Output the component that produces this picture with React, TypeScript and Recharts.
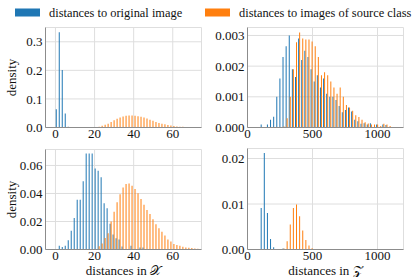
import React from "react";
import { ComposedChart, Bar, XAxis, YAxis, CartesianGrid } from "recharts";

const BLUE = "#1f77b4";
const ORANGE = "#ff7f0e";
const FRAME = "#8c8c8c";
const FONT = "'Liberation Serif', 'DejaVu Serif', 'Times New Roman', serif";
const FS = 13;

// histogram bins, left column (distances in X)
const xBinStart = 0;
const xBinWidth = 1.53;
const xTicks = [0, 20, 40, 60];
const xDomain: [number, number] = [-5.1, 74.7];

// histogram bins, right column (distances in Z)
const zBinStart = 99;
const zBinWidth = 24;
const zTicks = [0, 500, 1000];
const zDomain: [number, number] = [0, 1200];

const tlYTicks = [0, 0.1, 0.2, 0.3];
const trYTicks = [0, 0.001, 0.002, 0.003];
const blYTicks = [0, 0.02, 0.04, 0.06];
const brYTicks = [0, 0.01, 0.02];

// top left: distances to original image / to images of source class
const tlBlue = [
  0.064, 0.333, 0.201, 0.049, 0.003, 0, 0, 0, 0, 0, 0, 0, 0, 0, 0, 0,
  0, 0, 0, 0, 0, 0, 0, 0, 0, 0, 0, 0, 0, 0, 0, 0,
  0, 0, 0, 0, 0, 0, 0, 0, 0, 0, 0, 0, 0, 0, 0, 0,
];
const tlOrange = [
  0, 0, 0, 0, 0, 0, 0, 0, 0, 0, 0, 0, 0, 0.0012, 0.0024, 0.006,
  0.0098, 0.0135, 0.0195, 0.0255, 0.0305, 0.035, 0.0388, 0.041, 0.0422, 0.0422, 0.041, 0.0398, 0.0375, 0.035, 0.0315, 0.027,
  0.0232, 0.0196, 0.016, 0.0135, 0.011, 0.0086, 0.0073, 0.0049, 0.0037, 0.0025, 0.0024, 0.0013, 0.0013, 0.0012, 0.001, 0.0008,
];

// bottom left
const blBlue = [
  0, 0.0026, 0.0017, 0.0026, 0.0066, 0.0133, 0.0225, 0.0356, 0.0356, 0.0487, 0.0686, 0.0686, 0.0686, 0.0579, 0.0563, 0.0515,
  0.033, 0.0294, 0.0183, 0.0107, 0.0081, 0.0071, 0.0021, 0, 0, 0.0026, 0, 0, 0.0014, 0.0014, 0, 0,
  0, 0, 0, 0, 0, 0, 0, 0, 0, 0, 0, 0, 0, 0, 0, 0,
];
const blOrange = [
  0, 0, 0, 0, 0, 0, 0, 0, 0, 0, 0, 0, 0, 0, 0.0024, 0.0043,
  0.0083, 0.0116, 0.02, 0.027, 0.0337, 0.0394, 0.0442, 0.0467, 0.0472, 0.0455, 0.0432, 0.0401, 0.0361, 0.032, 0.0282, 0.0254,
  0.0216, 0.018, 0.0152, 0.0126, 0.01, 0.0071, 0.0057, 0.004, 0.0033, 0.0026, 0.0019, 0.0014, 0.0012, 0.001, 0.0007, 0.0005,
];

// top right
const trBlue = [
  0.0001, 0, 0.0001, 0.00025, 0.00035, 0.001, 0.0016, 0.0023, 0.00265, 0.003, 0.0019, 0.00165, 0.0029, 0.0022,
  0.0025, 0.0023, 0.0019, 0.0015, 0.0017, 0.0013, 0.0016, 0.0011, 0.001, 0.001, 0.0009, 0.0007, 0.0005, 0.00057,
  0.00065, 0.00052, 0.00025, 0.0002, 0.00012, 0.00014, 0.0001, 0.00014, 0, 0.0001, 0, 0.0001, 0.00008, 0,
];
const trOrange = [
  0, 0, 0, 0, 0, 0, 0, 0.00003, 0.0003, 0.001, 0.0019, 0.00278, 0.0031, 0.0029,
  0.00287, 0.00287, 0.0028, 0.00265, 0.0023, 0.0017, 0.0018, 0.0017, 0.0015, 0.0013, 0.0011, 0.0013, 0.001, 0.00073,
  0.00065, 0.00055, 0.0004, 0.00034, 0.00025, 0.00017, 0.00013, 0.0001, 0.0001, 0.0001, 0.00005, 0.00012, 0.0001, 0.00005,
];

// bottom right
const brBlue = [
  0.0091, 0.0212, 0.008, 0.0023, 0.0005, 0, 0, 0.0002, 0, 0, 0, 0, 0, 0,
  0, 0, 0, 0, 0, 0, 0, 0, 0, 0, 0, 0, 0, 0,
  0, 0, 0, 0, 0, 0, 0, 0, 0, 0, 0, 0, 0, 0,
];
const brOrange = [
  0, 0, 0, 0, 0, 0, 0, 0.0002, 0.0018, 0.0055, 0.0091, 0.0099, 0.0073, 0.0042,
  0.0021, 0.0009, 0.0003, 0, 0, 0, 0, 0, 0, 0, 0, 0, 0, 0,
  0, 0, 0, 0, 0, 0, 0, 0, 0, 0, 0, 0, 0, 0,
];

const legendItems = [
  { label: "distances to original image", color: BLUE },
  { label: "distances to images of source class", color: ORANGE },
];

function rowsOf(start: number, width: number, blue: number[], orange: number[]) {
  return blue.map((b, i) => {
    const c = start + (i + 0.5) * width;
    return { bin: c.toFixed(2), c, blue: b, orange: orange[i] };
  });
}

const CHART_W = 207;
const Y_W = 45;
const M_LEFT = 0.5;
const M_RIGHT = 5.5;

interface PanelProps {
  left: number;
  top: number;
  height: number;
  marginTop: number;
  axisHeight: number;
  blue: number[];
  orange: number[];
  binStart: number;
  binWidth: number;
  xDomain: [number, number];
  xTicks: number[];
  yTicks: number[];
  yMax: number;
  decimals: number;
  yLabel?: string;
  xLabel?: string;
}

function Panel(p: PanelProps) {
  const rows = rowsOf(p.binStart, p.binWidth, p.blue, p.orange);
  const binEnd = p.binStart + p.blue.length * p.binWidth;
  const plotW = CHART_W - M_LEFT - M_RIGHT - Y_W;
  const span = p.xDomain[1] - p.xDomain[0];
  const padL = ((p.binStart - p.xDomain[0]) / span) * plotW;
  const padR = ((p.xDomain[1] - binEnd) / span) * plotW;
  const tickStyle = { fontSize: FS, fontFamily: FONT, fill: "#111" };
  const labelStyle = { fontSize: FS, fontFamily: FONT, fill: "#111" };

  return (
    <div style={{ position: "absolute", left: p.left, top: p.top }}>
      <ComposedChart
        width={CHART_W}
        height={p.height}
        data={rows}
        margin={{ top: p.marginTop, right: M_RIGHT, bottom: 0.5, left: M_LEFT }}
        barCategoryGap="10%"
        barGap={0}
      >
        <CartesianGrid xAxisId="num" stroke="#dedede" strokeWidth={1} />
        <XAxis
          xAxisId="band"
          dataKey="bin"
          type="category"
          orientation="top"
          height={0}
          hide
          padding={{ left: padL, right: padR }}
        />
        {/* top spine */}
        <XAxis
          xAxisId="frameTop"
          dataKey="c"
          type="number"
          orientation="top"
          domain={p.xDomain}
          allowDataOverflow
          height={0}
          tick={false}
          tickLine={false}
          axisLine={{ stroke: FRAME }}
        />
        <XAxis
          xAxisId="num"
          dataKey="c"
          type="number"
          domain={p.xDomain}
          ticks={p.xTicks}
          allowDataOverflow
          interval={0}
          height={p.axisHeight}
          tickLine={false}
          axisLine={{ stroke: FRAME }}
          tickSize={0}
          tickMargin={1}
          tick={tickStyle}
          label={
            p.xLabel
              ? { value: p.xLabel, position: "insideBottom", offset: 2, style: labelStyle }
              : undefined
          }
        />
        <YAxis
          dataKey="blue"
          type="number"
          domain={[0, p.yMax]}
          ticks={p.yTicks}
          allowDataOverflow
          interval={0}
          width={Y_W}
          tickLine={false}
          axisLine={{ stroke: FRAME }}
          tickSize={0}
          tickMargin={3}
          tick={tickStyle}
          tickFormatter={(v: number) => v.toFixed(p.decimals)}
          label={
            p.yLabel
              ? {
                  value: p.yLabel,
                  angle: -90,
                  position: "insideLeft",
                  offset: 11,
                  textAnchor: "middle",
                  style: { ...labelStyle, textAnchor: "middle" },
                }
              : undefined
          }
        />
        {/* right spine */}
        <YAxis
          yAxisId="frameRight"
          dataKey="blue"
          orientation="right"
          type="number"
          domain={[0, p.yMax]}
          allowDataOverflow
          width={0}
          tick={false}
          tickLine={false}
          axisLine={{ stroke: FRAME }}
        />
        <Bar xAxisId="band" dataKey="blue" fill={BLUE} isAnimationActive={false} />
        <Bar xAxisId="band" dataKey="orange" fill={ORANGE} isAnimationActive={false} />
      </ComposedChart>
    </div>
  );
}

export default function App() {
  return (
    <div
      style={{
        position: "absolute",
        left: 0,
        top: 0,
        width: 415,
        height: 277,
        background: "#fff",
        fontFamily: FONT,
      }}
    >
      <svg width={415} height={26} style={{ position: "absolute", left: 0, top: 0 }}>
        {legendItems.map((it, i) => (
          <g key={it.label} transform={`translate(${i === 0 ? 15 : 205}, 0)`}>
            <rect x={0} y={8.5} width={25} height={8} fill={it.color} />
            <text x={34} y={16.5} fontSize={12.4} fontFamily={FONT} fill="#111">
              {it.label}
            </text>
          </g>
        ))}
      </svg>

      <Panel
        left={0}
        top={0}
        height={145}
        marginTop={27.5}
        axisHeight={17}
        blue={tlBlue}
        orange={tlOrange}
        binStart={xBinStart}
        binWidth={xBinWidth}
        xDomain={xDomain}
        xTicks={xTicks}
        yTicks={tlYTicks}
        yMax={0.35}
        decimals={1}
        yLabel="density"
      />
      <Panel
        left={202}
        top={0}
        height={145}
        marginTop={27.5}
        axisHeight={17}
        blue={trBlue}
        orange={trOrange}
        binStart={zBinStart}
        binWidth={zBinWidth}
        xDomain={zDomain}
        xTicks={zTicks}
        yTicks={trYTicks}
        yMax={0.00326}
        decimals={3}
      />
      <Panel
        left={0}
        top={140}
        height={137}
        marginTop={9.5}
        axisHeight={27}
        blue={blBlue}
        orange={blOrange}
        binStart={xBinStart}
        binWidth={xBinWidth}
        xDomain={xDomain}
        xTicks={xTicks}
        yTicks={blYTicks}
        yMax={0.0714}
        decimals={2}
        yLabel="density"
        xLabel="distances in 𝒳"
      />
      <Panel
        left={202}
        top={140}
        height={137}
        marginTop={8.5}
        axisHeight={27}
        blue={brBlue}
        orange={brOrange}
        binStart={zBinStart}
        binWidth={zBinWidth}
        xDomain={zDomain}
        xTicks={zTicks}
        yTicks={brYTicks}
        yMax={0.0222}
        decimals={2}
        xLabel="distances in 𝒵"
      />
    </div>
  );
}
